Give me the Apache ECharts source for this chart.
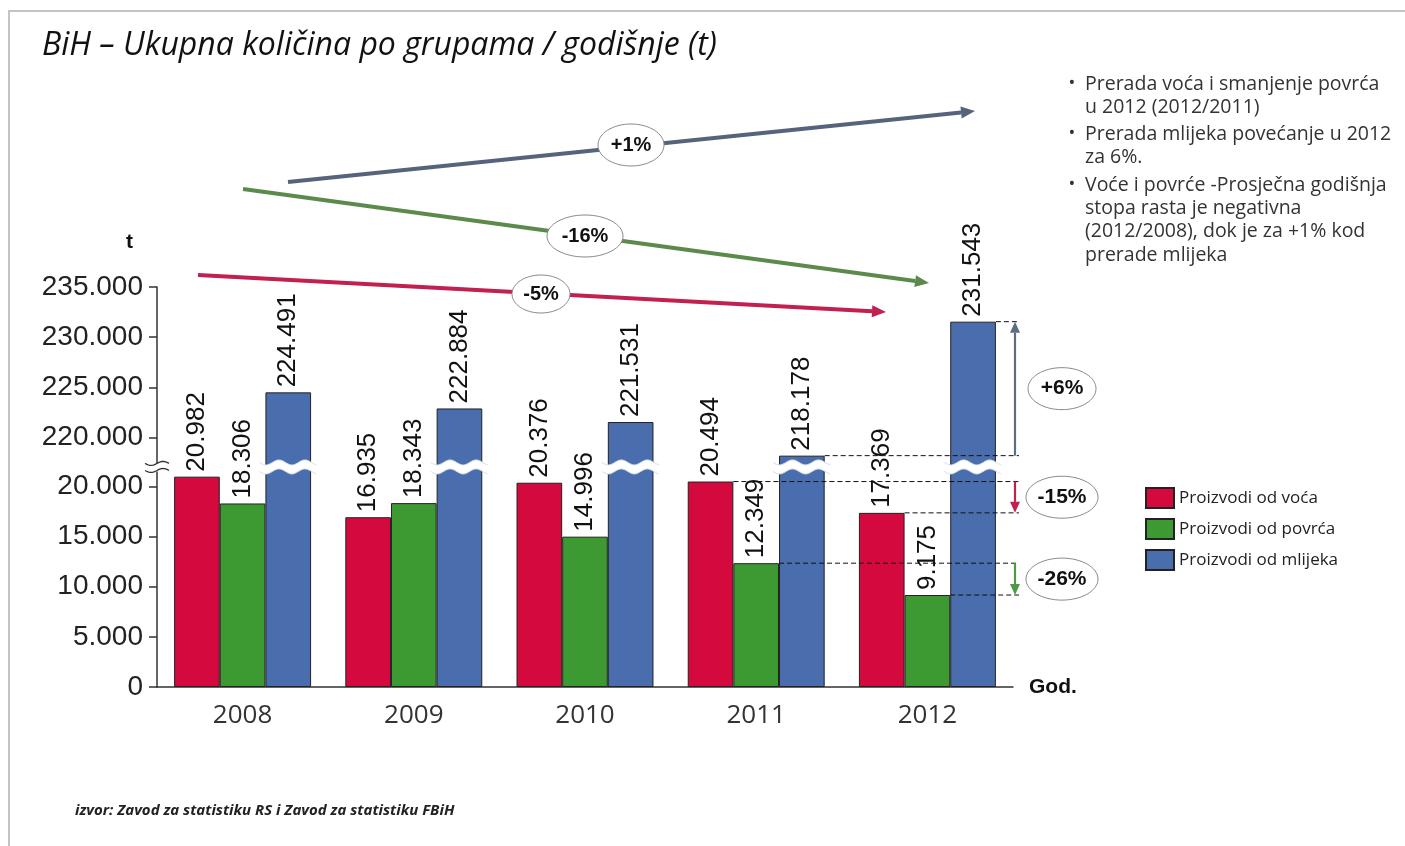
<!DOCTYPE html>
<html><head><meta charset="utf-8">
<script src="https://cdn.jsdelivr.net/npm/echarts@6/dist/echarts.min.js"></script>
<style>html,body{margin:0;padding:0;background:#fff}#c{width:1405px;height:846px}</style>
</head><body><div id="c"></div>
<script>
// ---- data ----
const years = ['2008', '2009', '2010', '2011', '2012'];
const voce = [20982, 16935, 20376, 20494, 17369];
const povrce = [18306, 18343, 14996, 12349, 9175];
const mlijeko = [224491, 222884, 221531, 218178, 231543];
const seriesNames = ['Proizvodi od voća', 'Proizvodi od povrća', 'Proizvodi od mlijeka'];
const yTicks = [0, 5000, 10000, 15000, 20000, 220000, 225000, 230000, 235000];
const axisBreak = { start: 21500, end: 217500, gap: 900 };
const trendLabels = ['+1%', '-16%', '-5%'];      // mlijeko, povrće, voće (2012/2008)
const changeLabels = ['-15%', '-26%', '+6%'];    // voće, povrće, mlijeko (2012/2011)
const notes = [
  ['Prerada voća i smanjenje povrća', 'u 2012 (2012/2011)'],
  ['Prerada mlijeka povećanje u 2012', 'za 6%.'],
  ['Voće i povrće -Prosječna godišnja', 'stopa rasta je negativna', '(2012/2008), dok je za +1% kod', 'prerade mlijeka']
];
const titleText = 'BiH – Ukupna količina po grupama / godišnje (t)';
const sourceText = 'izvor: Zavod za statistiku RS i Zavod za statistiku FBiH';

// ---- styles ----
const colors = ['#D40A3E', '#3D9A33', '#4A6DAD'];
const arrowColors = ['#C4204E', '#4E9A44', '#5B6E82'];
const trendColors = ['#56637C', '#5C8A4B', '#C12050'];
const fmt = v => String(v).replace(/\B(?=(\d{3})+(?!\d))/g, '.');

const chart = echarts.init(document.getElementById('c'));
const dataSets = [voce, povrce, mlijeko];

const option = {
  backgroundColor: '#fff',
  animation: false,
  title: {
    text: titleText, left: 37, top: 25,
    textStyle: { fontStyle: 'italic', fontWeight: 'normal', fontSize: 32, color: '#111', fontFamily: 'Open Sans' }
  },
  legend: {
    orient: 'vertical', left: 1140, top: 482, itemWidth: 28, itemHeight: 20, itemGap: 9,
    icon: 'rect',
    textStyle: { fontSize: 17, color: '#222', fontFamily: 'Open Sans' },
    data: seriesNames
  },
  grid: { left: 157, right: 392, top: 287, bottom: 159, containLabel: false },
  xAxis: {
    type: 'category', data: years,
    name: 'God.', nameLocation: 'end', nameGap: 16,
    nameTextStyle: { fontWeight: 'bold', fontSize: 21, color: '#111', fontFamily: 'Liberation Sans', verticalAlign: 'middle' },
    axisLine: { lineStyle: { color: '#333', width: 1.5 } },
    axisTick: { show: false },
    axisLabel: { fontSize: 26, color: '#333', margin: 16, fontFamily: 'Open Sans' }
  },
  yAxis: {
    type: 'value', min: 0, max: 235000, interval: 5000,
    name: 't', nameLocation: 'end', nameGap: 45,
    nameTextStyle: { fontWeight: 'bold', fontSize: 21, color: '#111', fontFamily: 'Liberation Sans', align: 'right', padding: [0, 24, 0, 0], verticalAlign: 'middle' },
    breaks: [axisBreak],
    breakArea: { show: false, expandOnClick: false },
    splitLine: { show: false },
    axisLine: { show: true, lineStyle: { color: '#333', width: 1.5 } },
    axisTick: { show: true, length: 8, customValues: yTicks, lineStyle: { color: '#333', width: 1.5 } },
    axisLabel: { fontSize: 28, color: '#222', margin: 14, fontFamily: 'Liberation Sans', customValues: yTicks, formatter: v => fmt(v) }
  },
  series: dataSets.map((d, i) => ({
    name: seriesNames[i], type: 'bar', data: d,
    barGap: '0%', barCategoryGap: '20%',
    itemStyle: { color: colors[i], borderColor: '#222', borderWidth: 1 },
    label: {
      show: true, position: 'top', rotate: 90, align: 'left', verticalAlign: 'middle', distance: 5,
      fontSize: 26, color: '#111', fontFamily: 'Liberation Sans', formatter: p => fmt(p.value)
    }
  }))
};
chart.setOption(option);

// ---- annotations computed from the axes ----
function arrow(x1, y1, x2, y2, color, w, hl, hw) {
  const dx = x2 - x1, dy = y2 - y1, L = Math.hypot(dx, dy), ux = dx / L, uy = dy / L;
  const bx = x2 - ux * hl, by = y2 - uy * hl;
  return [
    { type: 'line', silent: true, z: 200, shape: { x1, y1, x2: bx, y2: by }, style: { stroke: color, lineWidth: w } },
    { type: 'polygon', silent: true, z: 200, shape: { points: [[x2, y2], [bx - uy * hw, by + ux * hw], [bx + uy * hw, by - ux * hw]] }, style: { fill: color } }
  ];
}
function bubble(cx, cy, rx, ry, text, size) {
  return [
    { type: 'ellipse', silent: true, z: 210, shape: { cx, cy, rx, ry }, style: { fill: '#fff', stroke: '#8a8a8a', lineWidth: 1 } },
    { type: 'text', silent: true, z: 211, style: { text, x: cx, y: cy, align: 'center', verticalAlign: 'middle', fontSize: size || 20, fontWeight: 'bold', fontFamily: 'Liberation Sans', fill: '#111' } }
  ];
}
function wave(x1, x2, y, amp, period) {
  const pts = [];
  for (let x = x1; x <= x2 + 0.01; x += 1) pts.push([x, y + amp * Math.sin(2 * Math.PI * (x - x1) / period)]);
  return pts;
}
const P = (c, v) => chart.convertToPixel({ seriesIndex: 0 }, [c, v]);
const c0 = P(0, 0), c1 = P(1, 0);
const catW = c1[0] - c0[0];
const bw = catW * 0.8 / 3;
const axisStart = c0[0] - catW / 2;
const axisEnd = P(4, 0)[0] + catW / 2;
const lineEnd = axisEnd + 6;
const arrowX = axisEnd + 2;
const yBrLow = P(0, axisBreak.start)[1];
const yBrHigh = P(0, axisBreak.end)[1];
const g = [];
// break bands over the tall bars
mlijeko.forEach((v, c) => {
  const cx = P(c, v)[0] + bw;
  const xl = cx - bw / 2 - 6, xr = cx + bw / 2 + 6;
  const top = wave(xl, xr, yBrHigh, 2.5, 26);
  const bot = wave(xl, xr, yBrLow, 2.5, 26).reverse();
  g.push({ type: 'polygon', silent: true, z: 120, shape: { points: top.concat(bot) }, style: { fill: '#fff' } });
  g.push({ type: 'polyline', silent: true, z: 121, shape: { points: top }, style: { stroke: '#d5deec', lineWidth: 1, fill: null } });
  g.push({ type: 'polyline', silent: true, z: 121, shape: { points: bot }, style: { stroke: '#d5deec', lineWidth: 1, fill: null } });
});
// break mark on the y axis
{
  const xl = axisStart - 12, xr = axisStart + 12;
  const top = wave(xl, xr, yBrHigh + 1, 2, 24);
  const bot = wave(xl, xr, yBrLow - 1, 2, 24);
  g.push({ type: 'polygon', silent: true, z: 120, shape: { points: top.concat(bot.slice().reverse()) }, style: { fill: '#fff' } });
  g.push({ type: 'polyline', silent: true, z: 121, shape: { points: top }, style: { stroke: '#333', lineWidth: 1.3, fill: null } });
  g.push({ type: 'polyline', silent: true, z: 121, shape: { points: bot }, style: { stroke: '#333', lineWidth: 1.3, fill: null } });
}
// dashed comparison lines 2011 -> 2012 and vertical arrows
dataSets.forEach((d, s) => {
  const yPrev = P(3, d[3])[1], yCur = P(4, d[4])[1];
  const xPrev = P(3, d[3])[0] + (s - 0.5) * bw;
  const xCur = P(4, d[4])[0] + (s - 0.5) * bw;
  g.push({ type: 'line', silent: true, z: 150, shape: { x1: xPrev, y1: yPrev, x2: lineEnd, y2: yPrev }, style: { stroke: '#111', lineWidth: 1, lineDash: [5, 3] } });
  g.push({ type: 'line', silent: true, z: 150, shape: { x1: xCur, y1: yCur, x2: lineEnd, y2: yCur }, style: { stroke: '#111', lineWidth: 1, lineDash: [5, 3] } });
  g.push(...arrow(arrowX, yPrev, arrowX, yCur, arrowColors[s], 2.2, 11, 5));
  g.push(...bubble(axisEnd + 49, (yPrev + yCur) / 2, s === 2 ? 34 : 36, 21, changeLabels[s], 21));
});
// long-term trend arrows (decorative)
g.push(...arrow(288, 182, 975, 111, trendColors[0], 4, 14, 6));
g.push(...bubble(631, 145, 33, 21, trendLabels[0], 20));
g.push(...arrow(243, 189, 929, 283, trendColors[1], 4, 14, 6));
g.push(...bubble(585, 236, 38, 21, trendLabels[1], 20));
g.push(...arrow(198, 275, 886, 312, trendColors[2], 4, 14, 6));
g.push(...bubble(541, 294, 29, 19, trendLabels[2], 20));
// notes
const noteStarts = [84, 134, 185];
notes.forEach((lines, i) => {
  g.push({ type: 'text', silent: true, style: { text: '•', x: 1072, y: noteStarts[i], align: 'center', verticalAlign: 'middle', fontSize: 18, fill: '#333', fontFamily: 'Open Sans' } });
  lines.forEach((t, j) => {
    g.push({ type: 'text', silent: true, style: { text: t, x: 1085, y: noteStarts[i] + j * 23.4, align: 'left', verticalAlign: 'middle', fontSize: 19.5, fill: '#333', fontFamily: 'Open Sans' } });
  });
});
// source
g.push({ type: 'text', silent: true, style: { text: sourceText, x: 75, y: 811, align: 'left', verticalAlign: 'middle', fontSize: 15, fontWeight: 'bold', fontStyle: 'italic', fill: '#222', fontFamily: 'Open Sans' } });
// frame
g.push({ type: 'line', silent: true, shape: { x1: 8, y1: 11, x2: 1405, y2: 11 }, style: { stroke: '#c4c4c4', lineWidth: 2 } });
g.push({ type: 'line', silent: true, shape: { x1: 9, y1: 11, x2: 9, y2: 846 }, style: { stroke: '#c4c4c4', lineWidth: 2 } });
chart.setOption({ graphic: { elements: g } });
</script>
</body></html>
